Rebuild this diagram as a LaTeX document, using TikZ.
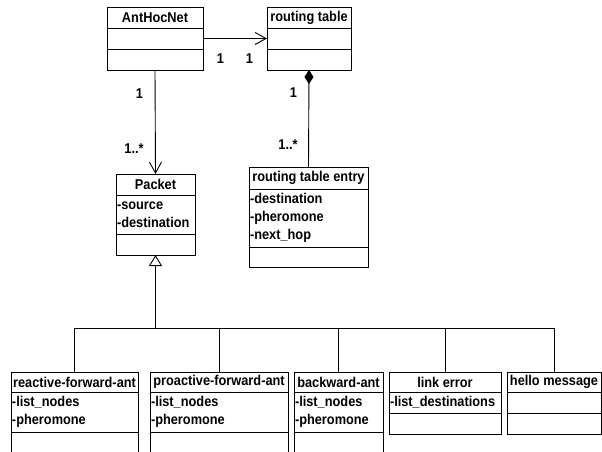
\documentclass[tikz,border=0pt]{standalone}
\usepackage{fontspec}
\setmainfont{Liberation Sans}[FakeStretch=0.9]
\usetikzlibrary{arrows.meta,positioning}

\begin{document}
\begin{tikzpicture}[x=1pt, y=-1pt, line width=0.9pt,
	every node/.style={font=\fontsize{14.2}{18.3}\selectfont\bfseries},
	head/.style={draw, inner sep=0pt, outer sep=0pt, anchor=north west},
	sect/.style={draw, inner xsep=1pt, inner ysep=0pt, outer sep=0pt, align=left},
	mult/.style={inner sep=0pt}]
\clip (0,0) rectangle (602,452);

	% upper classes
	\node [head, minimum width=96pt, minimum height=21pt] (anthocnet) at (107,7) {AntHocNet};
	\node [sect, text width=94pt, minimum height=21pt, below=0pt of anthocnet] (anthocnet-attr) {};
	\node [sect, text width=94pt, minimum height=21pt, below=0pt of anthocnet-attr] (anthocnet-ops) {};

	\node [head, minimum width=84pt, minimum height=21pt] (rtable) at (267,7) {routing table};
	\node [sect, text width=82pt, minimum height=21pt, below=0pt of rtable] (rtable-attr) {};
	\node [sect, text width=82pt, minimum height=21pt, below=0pt of rtable-attr] (rtable-ops) {};

	\node [head, minimum width=79pt, minimum height=21pt] (packet) at (116,174) {Packet};
	\node [sect, text width=77pt, minimum height=39pt, below=0pt of packet] (packet-attr) {-source\\-destination};
	\node [sect, text width=77pt, minimum height=21pt, below=0pt of packet-attr] (packet-ops) {};

	\node [head, minimum width=119pt, minimum height=22pt] (rentry) at (249,167) {routing table entry};
	\node [sect, text width=117pt, minimum height=58pt, below=0pt of rentry] (rentry-attr) {-destination\\-pheromone\\-next\_hop};
	\node [sect, text width=117pt, minimum height=20pt, below=0pt of rentry-attr] (rentry-ops) {};

	% packet subclasses
	\node [head, minimum width=127pt, minimum height=20pt] (reactive) at (11,372) {reactive-forward-ant};
	\node [sect, text width=125pt, minimum height=40pt, below=0pt of reactive] (reactive-attr) {-list\_nodes\\-pheromone};
	\node [sect, text width=125pt, minimum height=21pt, below=0pt of reactive-attr] (reactive-ops) {};

	\node [head, minimum width=138pt, minimum height=20pt] (proactive) at (150,372) {proactive-forward-ant};
	\node [sect, text width=136pt, minimum height=40pt, below=0pt of proactive] (proactive-attr) {-list\_nodes\\-pheromone};
	\node [sect, text width=136pt, minimum height=21pt, below=0pt of proactive-attr] (proactive-ops) {};

	\node [head, minimum width=89pt, minimum height=20pt] (backward) at (294,372) {backward-ant};
	\node [sect, text width=87pt, minimum height=40pt, below=0pt of backward] (backward-attr) {-list\_nodes\\-pheromone};
	\node [sect, text width=87pt, minimum height=21pt, below=0pt of backward-attr] (backward-ops) {};

	\node [head, minimum width=112pt, minimum height=20pt] (linkerror) at (389,372) {link error};
	\node [sect, text width=110pt, minimum height=21pt, below=0pt of linkerror] (linkerror-attr) {-list\_destinations};
	\node [sect, text width=110pt, minimum height=21pt, below=0pt of linkerror-attr] (linkerror-ops) {};

	\node [head, minimum width=94pt, minimum height=20pt] (hello) at (507,372) {hello message};
	\node [sect, text width=92pt, minimum height=21pt, below=0pt of hello] (hello-attr) {};
	\node [sect, text width=92pt, minimum height=21pt, below=0pt of hello-attr] (hello-ops) {};

	% multiplicities
	\node [mult] (m-ant-rt) at (220.5,59) {1};
	\node [mult] (m-rt-ant) at (249.5,59) {1};
	\node [mult] (m-ant-pk) at (139.5,94) {1};
	\node [mult] (m-pk-ant) at (134,149) {1..*};
	\node [mult] (m-rt-re) at (293.5,93) {1};
	\node [mult] (m-re-rt) at (288,145) {1..*};

	% associations
	\draw [-{Straight Barb[length=11pt, width=12pt]}] (anthocnet-attr.east) -- (rtable-attr.west);
	\draw [-{Straight Barb[length=11pt, width=12pt]}] (anthocnet-ops.south) -- (packet.north);
	\draw [{Diamond[length=14pt, width=9pt]}-] (rtable-ops.south) -- (rentry.north);

	% generalisation
	\coordinate (fork) at (packet-ops.south |- 0,328);
	\draw [{Triangle[open, length=11pt, width=13pt]}-] (packet-ops.south) -- (fork);
	\draw (reactive.north |- fork) -- (hello.north |- fork);
	\foreach \sub in {reactive, proactive, backward, linkerror, hello}
		\draw (\sub.north) -- (\sub.north |- fork);
\end{tikzpicture}
\end{document}
